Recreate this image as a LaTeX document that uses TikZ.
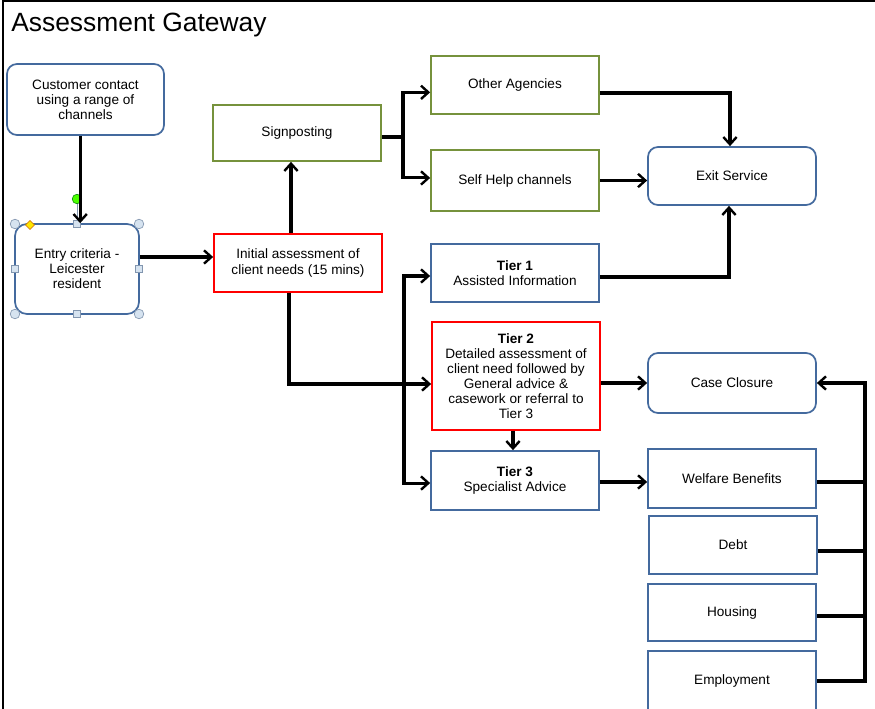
\documentclass[tikz,border=0pt]{standalone}
\usepackage{fontspec}
\setmainfont{Liberation Sans}
\usetikzlibrary{arrows.meta}
\definecolor{boxblue}{RGB}{68,106,158}
\definecolor{boxgreen}{RGB}{118,146,60}
\definecolor{handlefill}{RGB}{214,227,240}
\definecolor{handledraw}{RGB}{130,150,175}

\begin{document}
\begin{tikzpicture}[x=0.75pt,y=-0.75pt,
	every node/.style={font=\fontsize{10.2}{11.3}\selectfont, align=center, inner sep=0pt},
	box/.style={draw=boxblue, line width=1.3pt, fill=white, minimum width=126pt, minimum height=43.5pt},
	rbox/.style={box, rounded corners=7.5pt},
	gbox/.style={box, draw=boxgreen},
	redbox/.style={box, draw=red},
	link/.style={line width=2.3pt},
	flow/.style={link, -{Straight Barb[length=5.5pt,width=10pt,line width=1.8pt]}},
	handle/.style={fill=handlefill, draw=handledraw, line width=0.5pt}]
	\useasboundingbox (0,0) rectangle (875,709);
	\clip (0,0) rectangle (875,709);
	\draw[line width=1.5pt] (2.5,709) -- (2.5,1) -- (875,1);
	\node[anchor=base west, font=\fontsize{19.8}{23}\selectfont] (title) at (11,32) {Assessment Gateway};

	\node[rbox, minimum width=117.75pt, minimum height=53.25pt] (customer) at (85.5,99.5) {Customer contact\\using a range of\\channels};
	\node[rbox, rounded corners=9pt, minimum width=93pt, minimum height=67.5pt] (entry) at (77,269) {Entry criteria -\\Leicester\\resident};
	\node[redbox] (initial) at (298,263) {Initial assessment of\\client needs (15 mins)};
	\node[gbox, minimum height=42pt] (signposting) at (297,133) {Signposting};
	\node[gbox] (other) at (515,85) {Other Agencies};
	\node[gbox, minimum height=45.75pt] (selfhelp) at (515,180.5) {Self Help channels};
	\node[rbox] (exit) at (732,176) {Exit Service};
	\node[box] (tier1) at (515,273) {\textbf{Tier 1}\\Assisted Information};
	\node[redbox, minimum height=81pt] (tier2) at (516,376) {\textbf{Tier 2}\\Detailed assessment of\\client need followed by\\General advice \&\\casework or referral to\\Tier 3};
	\node[box, minimum height=44.25pt] (tier3) at (515,480.5) {\textbf{Tier 3}\\Specialist Advice};
	\node[rbox, minimum height=45pt] (closure) at (732,383) {Case Closure};
	\node[box, minimum height=44.25pt] (welfare) at (732,478.5) {Welfare Benefits};
	\node[box] (debt) at (733,545) {Debt};
	\node[box, minimum height=42.75pt] (housing) at (732,612.5) {Housing};
	\node[box, minimum height=45pt] (employment) at (732,681) {Employment};

	\draw[handledraw, line width=0.6pt] (77,199) -- (77,224);
	\foreach \hx/\hy in {15/224, 139/224, 15/314, 139/314}
		\draw[handle] (\hx,\hy) circle (3.6pt);
	\foreach \hx/\hy in {77/224, 77/314, 15/269, 139/269}
		\draw[handle] (\hx-3.8,\hy-3.8) rectangle (\hx+3.8,\hy+3.8);
	\draw[fill=yellow!90!orange, draw=orange!80!black, line width=0.4pt] (30,220.5) -- (34.5,225) -- (30,229.5) -- (25.5,225) -- cycle;
	\draw[fill=green!60!lime, draw=green!50!black, line width=0.4pt] (77,199) circle (3.6pt);

	\draw[flow] ([xshift=-4pt]customer.south) -- ([xshift=-4pt]customer.south |- entry.north);
	\draw[flow] ([yshift=9pt]entry.east) -- ([yshift=9pt]entry.east -| initial.west);
	\draw[flow] ([xshift=-5.25pt]initial.north) -- ([xshift=-5.25pt]initial.north |- signposting.south);

	\coordinate (sbus) at (403,137);
	\draw[link] (sbus -| signposting.east) -- (sbus);
	\draw[flow] (sbus) |- ([yshift=-5.5pt]other.west);
	\draw[flow] (sbus) |- ([yshift=1.9pt]selfhelp.west);

	\coordinate (tbus) at (404,384);
	\draw[link] ([xshift=-6.75pt]initial.south) |- (tbus);
	\draw[flow] (tbus) -- (tbus -| tier2.west);
	\draw[flow] (tbus) |- ([yshift=-2.25pt]tier1.west);
	\draw[flow] (tbus) |- ([yshift=-1.9pt]tier3.west);

	\draw[flow] ([yshift=-6pt]other.east) -| ([xshift=-1.5pt]exit.north);
	\draw[flow] (selfhelp.east) -- (selfhelp.east -| exit.west);
	\draw[flow] ([yshift=-3pt]tier1.east) -| ([xshift=-2.25pt]exit.south);
	\draw[flow] (closure.west -| tier2.east) -- (closure.west);
	\draw[flow] ([xshift=-2.25pt]tier2.south) -- ([xshift=-2.25pt]tier2.south |- tier3.north);
	\draw[flow] ([yshift=-1.1pt]tier3.east) -- ([yshift=-1.1pt]tier3.east -| welfare.west);

	\coordinate (cbus) at (865,383);
	\draw[flow] (employment.east) -| (cbus) -- (closure.east);
	\foreach \src/\dy in {welfare/-2.6, debt/-4.5, housing/-2.6}
		\draw[link] ([yshift=\dy pt]\src.east) -- ([yshift=\dy pt]\src.east -| cbus);
\end{tikzpicture}
\end{document}
